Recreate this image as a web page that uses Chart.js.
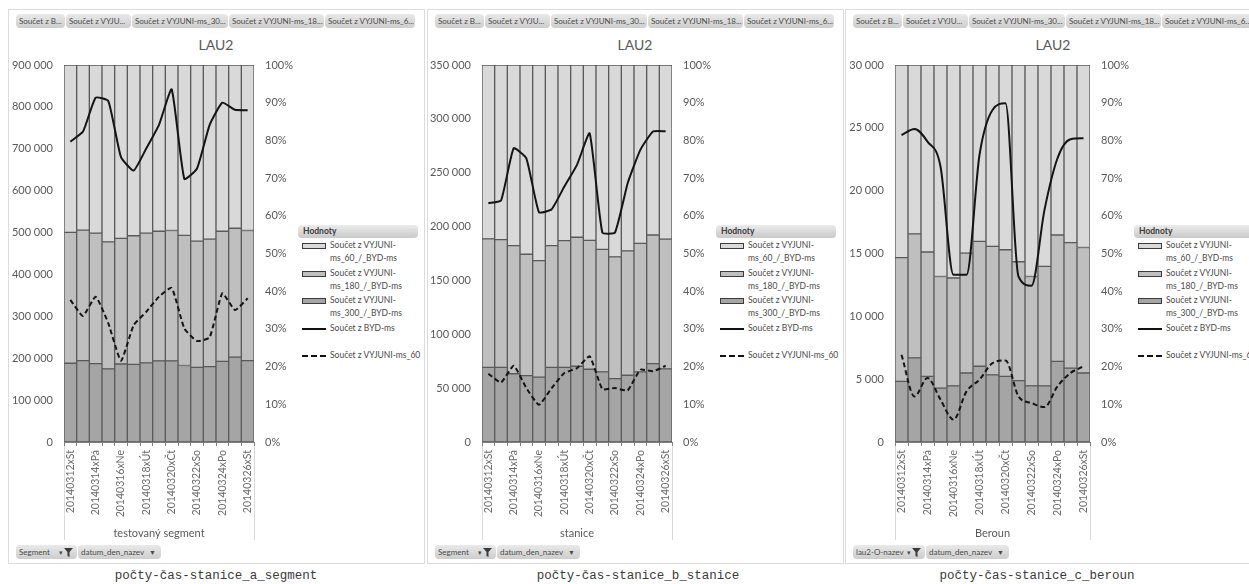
<!DOCTYPE html>
<html lang="cs">
<head>
<meta charset="utf-8">
<title>počty-čas-stanice</title>
<script src="https://cdn.jsdelivr.net/npm/chart.js@4.4.1/dist/chart.umd.min.js"></script>
<style>
  body { margin: 0; width: 1249px; height: 584px; overflow: hidden; background: #fff; position: relative; font-family: Lato, 'Open Sans', sans-serif; }
  .panel { position: absolute; top: 9px; width: 417px; height: 555px; border: 1px solid #dcdcdc; box-sizing: border-box; }
  canvas { position: absolute; top: 30px; }
  .btn { position: absolute; height: 14px; line-height: 14px; font-size: 8px; color: #4a4a4a; white-space: nowrap; overflow: hidden;
         background: linear-gradient(#e9e9e9, #cdcdcd); border-radius: 4px; box-sizing: border-box; padding-left: 3px; }
  .ttl { position: absolute; top: 36px; width: 120px; text-align: center; font-size: 14px; color: #595959; }
  .legend { position: absolute; top: 225px; width: 140px; font-size: 8.5px; color: #4a4a4a; }
  .legend .head { height: 13px; line-height: 13px; width: 120px; border-radius: 4px; background: linear-gradient(#ececec, #c9c9c9);
                  font-weight: bold; padding-left: 5px; box-sizing: border-box; color: #3a3a3a; }
  .legend .item { position: absolute; left: 0; white-space: nowrap; line-height: 13px; }
  .legend .sw { position: absolute; left: 4px; top: 4px; width: 22px; height: 4px; border: 1px solid #3c3c3c; }
  .legend .ln { position: absolute; left: 4px; top: 6px; width: 24px; height: 0; border-top: 2px solid #111; }
  .legend .ln.dash { border-top: 2px dashed #111; }
  .legend .tx { position: absolute; left: 32px; top: 0; }
  .cap { position: absolute; top: 569px; width: 300px; text-align: center; font-family: 'Liberation Mono', 'DejaVu Sans Mono', monospace; font-size: 12.5px; color: #3a3a3a; }
</style>
</head>
<body>
<script>
// kategorie (dny)
const days = ['20140312xSt', '20140313xČt', '20140314xPá', '20140315xSo', '20140316xNe', '20140317xPo', '20140318xÚt',
  '20140319xSt', '20140320xČt', '20140321xPá', '20140322xSo', '20140323xNe', '20140324xPo', '20140325xÚt', '20140326xSt'];

const seriesNames = ['Součet z VYJUNI-ms_60_/_BYD-ms', 'Součet z VYJUNI-ms_180_/_BYD-ms', 'Součet z VYJUNI-ms_300_/_BYD-ms',
  'Součet z BYD-ms', 'Součet z VYJUNI-ms_60'];
const fieldButtons = ['Součet z B...', 'Součet z VYJU...', 'Součet z VYJUNI-ms_30...', 'Součet z VYJUNI-ms_18...', 'Součet z VYJUNI-ms_6...'];

// a) testovaný segment – podíly v % (pravá osa)
const segA300 = [20.9, 21.6, 20.8, 19.4, 20.7, 20.6, 21.0, 21.5, 21.5, 20.3, 19.8, 20.0, 21.4, 22.5, 21.6];
const segA180 = [34.7, 34.6, 34.6, 33.7, 33.3, 34.1, 34.4, 34.4, 34.6, 34.5, 33.5, 33.8, 34.5, 34.2, 34.5];
const segA60 = [44.4, 43.8, 44.6, 46.9, 46.0, 45.3, 44.6, 44.1, 43.9, 45.2, 46.7, 46.2, 44.1, 43.3, 43.9];
const bydA = [717000, 741000, 822000, 814000, 680000, 648000, 701000, 757000, 842000, 628000, 653000, 757000, 810000, 793000, 792000];
const v60A = [339000, 301000, 347000, 283000, 194000, 279000, 311000, 347000, 368000, 271000, 241000, 250000, 355000, 315000, 343000];

// b) stanice
const segB300 = [19.8, 19.8, 18.1, 17.6, 17.2, 19.8, 19.8, 20.1, 19.3, 18.6, 16.8, 17.7, 18.6, 20.8, 19.4];
const segB180 = [34.1, 33.9, 34.0, 32.2, 30.9, 32.3, 33.6, 34.2, 34.2, 32.5, 32.3, 33.0, 34.1, 34.1, 34.4];
const segB60 = [46.1, 46.3, 47.9, 50.2, 51.9, 47.9, 46.6, 45.7, 46.5, 48.9, 50.9, 49.3, 47.3, 45.1, 46.2];
const bydB = [221700, 224200, 272700, 263400, 213300, 216100, 237200, 257300, 286600, 194500, 194500, 240200, 271200, 288200, 288500];
const v60B = [63400, 55300, 70800, 50100, 34600, 50100, 64000, 68600, 79500, 49200, 50100, 47900, 67100, 65600, 70800];

// c) Beroun
const segC300 = [16.1, 22.3, 17.4, 14.3, 14.9, 18.3, 20.1, 17.8, 17.4, 16.3, 14.9, 14.9, 21.4, 19.6, 18.3];
const segC180 = [32.8, 32.9, 33.0, 29.6, 28.6, 31.8, 33.1, 34.1, 33.6, 31.5, 29.0, 31.7, 33.5, 33.3, 33.3];
const segC60 = [51.1, 44.8, 49.6, 56.1, 56.5, 49.9, 46.8, 48.1, 49.0, 52.2, 56.1, 53.4, 45.1, 47.1, 48.4];
const bydC = [24430, 24910, 23900, 21920, 13300, 13300, 22840, 26420, 26950, 13170, 12430, 18470, 22580, 24090, 24170];
const v60C = [6940, 3630, 5090, 3370, 1780, 4030, 4960, 6280, 6490, 3630, 3100, 2780, 4430, 5490, 6020];

const panels = [
  { left: 8, plotLeft: 64, plotRight: 254, ymax: 900000, step: 100000, s300: segA300, s180: segA180, s60: segA60, byd: bydA, v60: v60A,
    axisTitle: 'testovaný segment', filter: 'Segment', caption: 'počty-čas-stanice_a_segment', capX: 216, tension: 0.15, mono: false },
  { left: 427, plotLeft: 482, plotRight: 672, ymax: 350000, step: 50000, s300: segB300, s180: segB180, s60: segB60, byd: bydB, v60: v60B,
    axisTitle: 'stanice', filter: 'Segment', caption: 'počty-čas-stanice_b_stanice', capX: 638, tension: 0.15, mono: false },
  { left: 845, plotLeft: 895, plotRight: 1090, ymax: 30000, step: 5000, s300: segC300, s180: segC180, s60: segC60, byd: bydC, v60: v60C,
    axisTitle: 'Beroun', filter: 'lau2-O-nazev', caption: 'počty-čas-stanice_c_beroun', capX: 1037, tension: 0.35, mono: true }
];

const fillLight = '#d9d9d9', fillMid = '#bfbfbf', fillDark = '#a5a5a5', barEdge = '#5a5a5a';
const tickFont = { family: 'Lato', size: 11 };

function fmt(v) {
  return String(v).replace(/\B(?=(\d{3})+(?!\d))/g, ' ');
}

function el(tag, cls, css, html) {
  const e = document.createElement(tag);
  if (cls) e.className = cls;
  if (css) Object.assign(e.style, css);
  if (html !== undefined) e.innerHTML = html;
  document.body.appendChild(e);
  return e;
}

// svislé čáry u popisků kategorie (pivot)
const bracketLines = {
  id: 'bracketLines',
  afterDraw(chart) {
    const { ctx, chartArea } = chart;
    const xs = chart.scales.x;
    ctx.save();
    ctx.strokeStyle = '#d9d9d9';
    ctx.lineWidth = 1;
    [chartArea.left, chartArea.right].forEach(x => {
      ctx.beginPath();
      ctx.moveTo(Math.round(x) + 0.5, chartArea.bottom + 4);
      ctx.lineTo(Math.round(x) + 0.5, xs.bottom);
      ctx.stroke();
    });
    ctx.restore();
  }
};

panels.forEach(p => {
  el('div', 'panel', { left: p.left + 'px' });

  // tlačítka polí nahoře
  const widths = [50, 66, 97, 96, 91];
  let bx = p.left + 8;
  fieldButtons.forEach((t, i) => {
    el('div', 'btn', { left: bx + 'px', top: '14px', width: (widths[i] - 1) + 'px' }, t);
    bx += widths[i];
  });

  el('div', 'ttl', { left: (p.left + 208 - 60) + 'px' }, 'LAU2');

  // spodní tlačítka
  const funnel = '<svg width="9" height="9" style="position:absolute;right:4px;top:3px" viewBox="0 0 9 9">' +
    '<path d="M0 0 H9 L5.5 4 V9 L3.5 8 V4 Z" fill="#3a3a3a"/></svg>' +
    '<span style="position:absolute;right:14px;top:0;font-size:7px">▾</span>';
  const fw = p.filter === 'Segment' ? 61 : 72;
  el('div', 'btn', { left: (p.left + 8) + 'px', top: '545px', width: fw + 'px' }, p.filter + funnel);
  el('div', 'btn', { left: (p.left + 9 + fw) + 'px', top: '545px', width: '83px' },
    'datum_den_nazev <span style="font-size:7px;margin-left:3px">▼</span>');

  // legenda
  const lg = el('div', 'legend', { left: (p.plotRight + 44) + 'px' });
  const head = document.createElement('div');
  head.className = 'head';
  head.textContent = 'Hodnoty';
  lg.appendChild(head);
  const items = [
    { top: 14, kind: 'sw', color: fillLight, text: 'Součet z VYJUNI-<br>ms_60_/_BYD-ms' },
    { top: 42, kind: 'sw', color: fillMid, text: 'Součet z VYJUNI-<br>ms_180_/_BYD-ms' },
    { top: 69, kind: 'sw', color: fillDark, text: 'Součet z VYJUNI-<br>ms_300_/_BYD-ms' },
    { top: 97, kind: 'ln', text: seriesNames[3] },
    { top: 124, kind: 'ln dash', text: seriesNames[4] }
  ];
  items.forEach(it => {
    const d = document.createElement('div');
    d.className = 'item';
    d.style.top = it.top + 'px';
    const mark = it.kind === 'sw'
      ? '<div class="sw" style="background:' + it.color + '"></div>'
      : '<div class="ln' + (it.kind === 'ln dash' ? ' dash' : '') + '"></div>';
    d.innerHTML = mark + '<div class="tx">' + it.text + '</div>';
    lg.appendChild(d);
  });

  el('div', 'cap', { left: (p.capX - 150) + 'px' }, p.caption);

  // graf
  const canvas = document.createElement('canvas');
  const cw = p.plotRight - p.left + 44;
  canvas.width = cw;
  canvas.height = 510;
  canvas.style.left = p.left + 'px';
  canvas.style.width = cw + 'px';
  canvas.style.height = '510px';
  document.body.appendChild(canvas);

  const barStyle = { type: 'bar', yAxisID: 'y1', stack: 's', order: 1, borderColor: barEdge, borderWidth: 1,
    categoryPercentage: 1.0, barPercentage: 1.0, borderSkipped: false };
  const lineStyle = { type: 'line', yAxisID: 'y', order: 0, borderColor: '#141414', borderWidth: 2,
    pointRadius: 0, fill: false, tension: p.tension };
  if (p.mono) lineStyle.cubicInterpolationMode = 'monotone';

  new Chart(canvas, {
    type: 'bar',
    data: {
      labels: days,
      datasets: [
        Object.assign({ label: seriesNames[2], data: p.s300, backgroundColor: fillDark }, barStyle),
        Object.assign({ label: seriesNames[1], data: p.s180, backgroundColor: fillMid }, barStyle),
        Object.assign({ label: seriesNames[0], data: p.s60, backgroundColor: fillLight }, barStyle),
        Object.assign({ label: seriesNames[3], data: p.byd }, lineStyle),
        Object.assign({ label: seriesNames[4], data: p.v60, borderDash: [5, 3] }, lineStyle)
      ]
    },
    options: {
      responsive: false,
      animation: false,
      layout: { padding: { top: 35, left: 0, right: 0, bottom: 0 } },
      plugins: { legend: { display: false }, tooltip: { enabled: false } },
      scales: {
        x: {
          stacked: true,
          afterFit: s => { s.height = 98; },
          grid: { display: true, drawOnChartArea: false, drawTicks: true, tickLength: 4, color: '#7f7f7f', offset: true },
          border: { display: true, color: '#7f7f7f' },
          ticks: {
            autoSkip: false, minRotation: 90, maxRotation: 90, padding: 4, color: '#6a6a6a', font: { family: 'Lato', size: 10.5 },
            callback: (v, i) => (i % 2 === 0 ? days[i] : '')
          },
          title: { display: true, text: p.axisTitle, color: '#595959', font: tickFont, padding: { top: 0, bottom: 0 } }
        },
        y: {
          position: 'left',
          min: 0, max: p.ymax,
          afterFit: s => { s.width = p.plotLeft - p.left; },
          grid: { display: false, drawTicks: false },
          border: { display: false },
          ticks: { stepSize: p.step, padding: 11, color: '#595959', font: tickFont, callback: v => fmt(v) }
        },
        y1: {
          position: 'right',
          stacked: true,
          min: 0, max: 100,
          afterFit: s => { s.width = 44; },
          grid: { display: false, drawTicks: false },
          border: { display: false },
          ticks: { stepSize: 10, padding: 11, color: '#595959', font: tickFont, callback: v => v + '%' }
        }
      }
    },
    plugins: [bracketLines]
  });
});
</script>
</body>
</html>
